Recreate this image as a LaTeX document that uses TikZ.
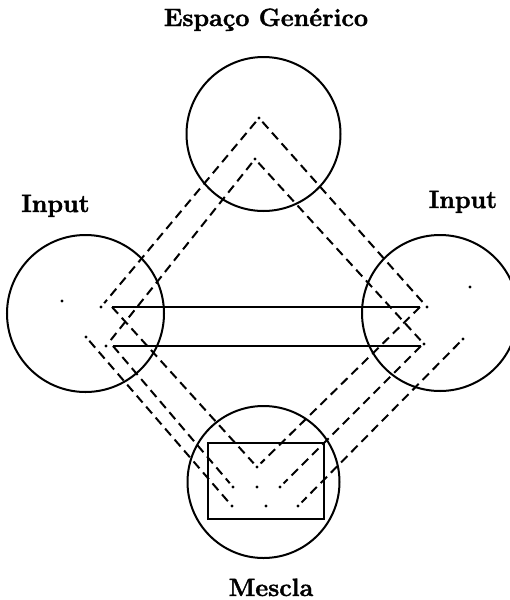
\documentclass[tikz,border=0pt]{standalone}
\usepackage{fontspec}
\newfontfamily\heavy[FakeBold=1.6]{lmroman12-bold.otf}
\begin{document}
\begin{tikzpicture}[x=1pt,y=-1pt,
  ring/.style={draw, circle, line width=2pt, inner sep=0pt},
  dashln/.style={line width=2pt, dash pattern=on 9pt off 5.5pt},
  solidln/.style={line width=2pt},
  pt/.style={fill, circle, inner sep=0pt, minimum size=3.4pt},
  lbl/.style={anchor=base, inner sep=0pt, font=\fontsize{25}{30}\selectfont\heavy}]
\useasboundingbox (0,0) rectangle (510,600);
\clip (0,0) rectangle (510,600);
% labels
\node[lbl] (lgen) at (266,26) {Espaço Genérico};
\node[lbl] (lin1) at (55.5,212) {Input};
\node[lbl] (lin2) at (463,208) {Input};
\node[lbl] (lmes) at (271,596) {Mescla};
% circles
\node[ring, minimum size=154pt] (ctop) at (263.5,134) {};
\node[ring, minimum size=157pt] (cleft) at (85.5,313.5) {};
\node[ring, minimum size=156pt] (cright) at (440,313) {};
\node[ring, minimum size=152pt] (cblend) at (263.5,482) {};
% rectangle in blend
\node[draw, line width=2pt, minimum width=116pt, minimum height=76pt, inner sep=0pt] (rblend) at (266,481) {};
% points
\coordinate (T1) at (259,118);
\coordinate (T2) at (255,159);
\coordinate (L0) at (62,301);
\coordinate (L1) at (101,307);
\coordinate (L2) at (86,337);
\coordinate (L3) at (106,346);
\coordinate (R0) at (470,287);
\coordinate (R1) at (427,307);
\coordinate (R2) at (463,339);
\coordinate (R3) at (424,344);
\coordinate (S1a) at (112,307);
\coordinate (S1b) at (420,307);
\coordinate (S2a) at (113,346);
\coordinate (S2b) at (421,346);
\coordinate (B1) at (257,467);
\coordinate (B2) at (233,487);
\coordinate (B3) at (257,487);
\coordinate (B4) at (280,487);
\coordinate (B5) at (232,506);
\coordinate (B6) at (266,506);
\coordinate (B7) at (298,506);
% dots
\foreach \p in {T1,T2,L0,L1,L2,L3,R0,R1,R2,R3,B1,B2,B3,B4,B5,B6,B7}
  \node[pt] at (\p) {};
% generic to inputs
\draw[dashln, shorten <=5pt, shorten >=5pt] (T1) -- (L1);
\draw[dashln, shorten <=5pt, shorten >=5pt] (T1) -- (R1);
\draw[dashln, shorten <=5pt, shorten >=5pt] (T2) -- (L3);
\draw[dashln, shorten <=5pt, shorten >=5pt] (T2) -- (R3);
% solid cross-space links
\draw[solidln] (S1a) -- (S1b);
\draw[solidln] (S2a) -- (S2b);
% inputs to blend
\draw[dashln, shorten >=5pt] (S1a) -- (B1);
\draw[dashln, shorten >=5pt] (S1b) -- (B1);
\draw[dashln, shorten >=5pt] (S2a) -- (B2);
\draw[dashln, shorten >=5pt] (S2b) -- (B4);
\draw[dashln, shorten <=5pt, shorten >=5pt] (L2) -- (B5);
\draw[dashln, shorten <=5pt, shorten >=5pt] (R2) -- (B7);
\end{tikzpicture}
\end{document}
